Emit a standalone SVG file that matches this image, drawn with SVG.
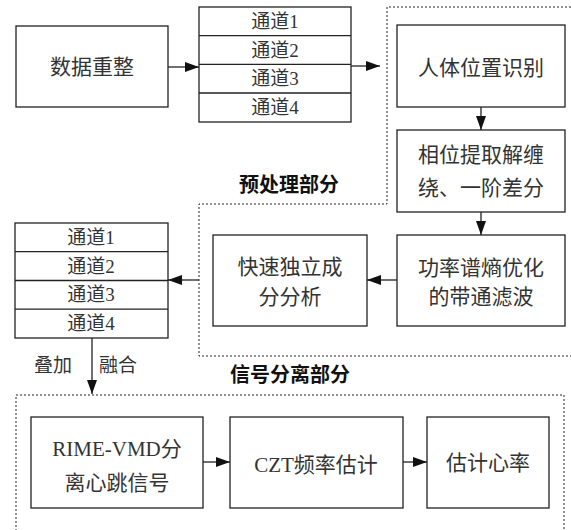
<svg xmlns="http://www.w3.org/2000/svg" width="571" height="530" viewBox="0 0 571 530">
<style>
.box{fill:#fff;stroke:#222;stroke-width:1.3}
.dash{fill:none;stroke:#222;stroke-width:1;stroke-dasharray:2,2}
.t{font-family:"Liberation Serif","Noto Sans CJK SC",serif;font-size:21px;fill:#333;text-anchor:middle;dominant-baseline:central}
.c{font-size:19px}
.h{font-family:"Liberation Sans","Noto Sans CJK SC",sans-serif;font-size:20px;font-weight:bold;fill:#111;text-anchor:middle;dominant-baseline:central}
.ln{stroke:#222;stroke-width:1.3;fill:none}
</style>
<defs>
<marker id="ah" markerUnits="userSpaceOnUse" markerWidth="14" markerHeight="10" refX="14" refY="5" orient="auto">
<path d="M0,0 L14,5 L0,10 z" fill="#111"/>
</marker>
</defs>
<g id="frames">
<path class="dash" d="M571,7 L387,7 L387,204 L199,204 L199,356 L571,356"/>
<path class="dash" d="M16,535 L16,395 L564,395 L564,535"/>
<text class="h" x="289" y="185">预处理部分</text>
<text class="h" x="290" y="375">信号分离部分</text>
</g>
<g id="reshape">
<rect class="box" x="16" y="26" width="152" height="81"/>
<text class="t" x="92" y="67">数据重整</text>
</g>
<g id="channels1">
<rect class="box" x="199" y="7" width="152" height="115"/>
<line class="ln" x1="199" y1="35.7" x2="351" y2="35.7"/>
<line class="ln" x1="199" y1="64.3" x2="351" y2="64.3"/>
<line class="ln" x1="199" y1="93" x2="351" y2="93"/>
<text class="t c" x="275" y="21">通道1</text>
<text class="t c" x="275" y="50">通道2</text>
<text class="t c" x="275" y="78.5">通道3</text>
<text class="t c" x="275" y="107.5">通道4</text>
</g>
<g id="locate">
<rect class="box" x="397" y="25" width="168" height="82"/>
<text class="t" x="481" y="68">人体位置识别</text>
</g>
<g id="phase">
<rect class="box" x="397" y="130" width="168" height="82"/>
<text class="t" x="481" y="155">相位提取解缠</text>
<text class="t" x="481" y="188">绕、一阶差分</text>
</g>
<g id="bandpass">
<rect class="box" x="397" y="235" width="168" height="91"/>
<text class="t" x="481" y="268">功率谱熵优化</text>
<text class="t" x="481" y="297">的带通滤波</text>
</g>
<g id="fastica">
<rect class="box" x="213" y="235" width="154" height="91"/>
<text class="t" x="290" y="267">快速独立成</text>
<text class="t" x="290" y="297">分分析</text>
</g>
<g id="channels2">
<rect class="box" x="15" y="223" width="153" height="115"/>
<line class="ln" x1="15" y1="251.7" x2="168" y2="251.7"/>
<line class="ln" x1="15" y1="280.5" x2="168" y2="280.5"/>
<line class="ln" x1="15" y1="309.2" x2="168" y2="309.2"/>
<text class="t c" x="91" y="237">通道1</text>
<text class="t c" x="91" y="266">通道2</text>
<text class="t c" x="91" y="294.5">通道3</text>
<text class="t c" x="91" y="323.5">通道4</text>
</g>
<g id="rime">
<rect class="box" x="31" y="417" width="172" height="91"/>
<text class="t" x="117" y="449">RIME-VMD分</text>
<text class="t" x="117" y="483">离心跳信号</text>
</g>
<g id="czt">
<rect class="box" x="230" y="417" width="173" height="91"/>
<text class="t" x="316" y="465">CZT频率估计</text>
</g>
<g id="hr">
<rect class="box" x="427" y="417" width="122" height="91"/>
<text class="t" x="488" y="463">估计心率</text>
</g>
<g id="connectors">
<line class="ln" x1="168" y1="67" x2="199" y2="67" marker-end="url(#ah)"/>
<line class="ln" x1="351" y1="66" x2="380" y2="66" marker-end="url(#ah)"/>
<line class="ln" x1="481" y1="107" x2="481" y2="130" marker-end="url(#ah)"/>
<line class="ln" x1="481" y1="212" x2="481" y2="235" marker-end="url(#ah)"/>
<line class="ln" x1="397" y1="280" x2="367" y2="280" marker-end="url(#ah)"/>
<line class="ln" x1="199" y1="280" x2="168" y2="280" marker-end="url(#ah)"/>
<line class="ln" x1="92" y1="338" x2="92" y2="394" marker-end="url(#ah)"/>
<line class="ln" x1="203" y1="462" x2="230" y2="462" marker-end="url(#ah)"/>
<line class="ln" x1="403" y1="462" x2="427" y2="462" marker-end="url(#ah)"/>
<text class="t c" x="53" y="365">叠加</text>
<text class="t c" x="118" y="365">融合</text>
</g>
</svg>
